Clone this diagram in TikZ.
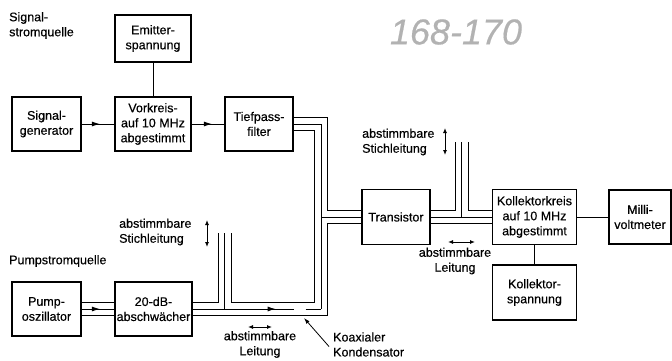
\documentclass[tikz,border=0pt]{standalone}
\usepackage{fontspec}
\setmainfont{Liberation Sans}[FakeBold=0.4]
\usetikzlibrary{arrows.meta,calc}

\begin{document}
\begin{tikzpicture}[x=1pt,y=-1pt,
    font=\fontsize{12.5}{15}\selectfont,
    block/.style={draw, line width=1.3pt, align=center, inner sep=0pt, minimum height=54pt},
    wire/.style={line width=1pt},
    flow/.style={line width=1pt, -{Latex[length=8pt,width=5pt]}},
    tune/.style={line width=0.9pt, {Latex[length=5pt,width=4pt]}-{Latex[length=5pt,width=4pt]}},
    lbl/.style={align=left, inner sep=0pt}]
  \useasboundingbox (0,0) rectangle (672,361);
  % Signal source
  \node[lbl, anchor=north west] (sq) at (9,12) {Signal-\\stromquelle};
  \node[block, minimum width=76pt, minimum height=47pt] (emit) at (153,38.5) {Emitter-\\spannung};
  \node[block, minimum width=69pt] (sg) at (46.5,124) {Signal-\\generator};
  \node[block, minimum width=76pt] (vk) at (153,124) {Vorkreis-\\auf 10 MHz\\abgestimmt};
  \node[block, minimum width=68pt] (tp) at (259,124) {Tiefpass-\\filter};
  \draw[wire] (emit) -- (vk);
  \draw[wire] (sg) -- (vk);
  \draw[wire] (vk) -- (tp);
  \draw[flow] (sg.east) -- ($(sg.east)!0.56!(vk.west)$);
  \draw[flow] (vk.east) -- ($(vk.east)!0.62!(tp.west)$);
  % Pump source
  \node[lbl, anchor=west] (pq) at (9,261) {Pumpstromquelle};
  \node[block, minimum width=69pt] (po) at (46.5,309) {Pump-\\oszillator};
  \node[block, minimum width=77pt] (ab) at (153.5,309) {20-dB-\\abschwächer};
  \draw[wire] ($(po.east)+(0,-6.5)$) -- ($(ab.west)+(0,-6.5)$);
  \draw[wire] (po.east) -- (ab.west);
  \draw[wire] ($(po.east)+(0,6.5)$) -- ($(ab.west)+(0,6.5)$);
  \draw[flow] (po.east) -- ($(po.east)!0.56!(ab.west)$);
  % Transistor stage
  \node[block, minimum width=68pt, minimum height=55pt] (tr) at (396,217) {Transistor};
  \node[block, minimum width=84pt, minimum height=55pt] (kk) at (534.5,217) {Kollektorkreis\\auf 10 MHz\\abgestimmt};
  \node[block, minimum width=62pt] (mv) at (640,217) {Milli-\\voltmeter};
  \node[block, minimum width=84pt, minimum height=55pt] (ks) at (534.5,292.5) {Kollektor-\\spannung};
  \draw[wire] (kk) -- (mv);
  \draw[wire] (kk) -- (ks);
  % Junction columns and stub ends
  \coordinate (ja) at (314.5,0);
  \coordinate (jc) at (321,0);
  \coordinate (jb) at (327.5,0);
  \coordinate (sl) at (218,233);
  \coordinate (sc) at (224.5,233);
  \coordinate (sr) at (231,233);
  \coordinate (ul) at (455,142);
  \coordinate (uc) at (461.5,142);
  \coordinate (ur) at (468,142);
  \coordinate (cap) at (304,318);
  % Coaxial line, Tiefpass to Transistor
  \draw[wire] ($(tp.east)+(0,-6.5)$) -| ($(jb |- tr.west)+(0,-6.5)$) -- ($(tr.west)+(0,-6.5)$);
  \draw[wire] (tp.east) -| (jc |- ab.east);
  \draw[wire] (jc |- tr.west) -- (tr.west);
  \draw[wire] ($(tp.east)+(0,6.5)$) -| ($(ja |- ab.east)+(0,-6.5)$) -| (sr);
  % Coaxial line, 20-dB to Transistor, with stub
  \draw[wire] ($(ab.east)+(0,-6.5)$) -| (sl);
  \draw[wire] (sc) -- (sc |- ab.east);
  \draw[wire] (ab.east) -- ($(ab.east)+(101,0)$);
  \draw[wire] ($(ab.east)+(113,0)$) -- (jc |- ab.east);
  \draw[flow] (ab.east) -- ($(ab.east)+(83,0)$);
  \draw[wire] ($(ab.east)+(0,6.5)$) -| ($(jb |- tr.west)+(0,6.5)$) -- ($(tr.west)+(0,6.5)$);
  % Coaxial line, Transistor to Kollektorkreis, with stub
  \draw[wire] ($(tr.east)+(0,-6.5)$) -| (ul);
  \draw[wire] (uc) -- (uc |- tr.east);
  \draw[wire] (ur) |- ($(kk.west)+(0,-6.5)$);
  \draw[wire] (tr.east) -- (kk.west);
  \draw[wire] ($(tr.east)+(0,6.5)$) -- ($(kk.west)+(0,6.5)$);
  % Labels
  \node[lbl, anchor=west] (st1) at (119,232) {abstimmbare\\Stichleitung};
  \draw[tune] (207,220) -- (207,247);
  \node[align=center, inner sep=0pt] (lt1) at (260,344.5) {abstimmbare\\Leitung};
  \draw[tune] (248,327) -- (272,327);
  \node[lbl, anchor=west] (kond) at (333,344.5) {Koaxialer\\Kondensator};
  \draw[line width=0.8pt, -{Latex[length=6pt,width=4pt]}] ([xshift=-4pt,yshift=-2pt]kond.west) -- (cap);
  \node[lbl, anchor=west] (st2) at (362,142) {abstimmbare\\Stichleitung};
  \draw[tune] (445,128) -- (445,155);
  \node[align=center, inner sep=0pt] (lt2) at (455,261) {abstimmbare\\Leitung};
  \draw[tune] (448,242) -- (475,242);
  % Handwritten note
  \node[text=black!30, font=\fontsize{36}{36}\selectfont\itshape] (note) at (456,32) {168-170};
\end{tikzpicture}
\end{document}
